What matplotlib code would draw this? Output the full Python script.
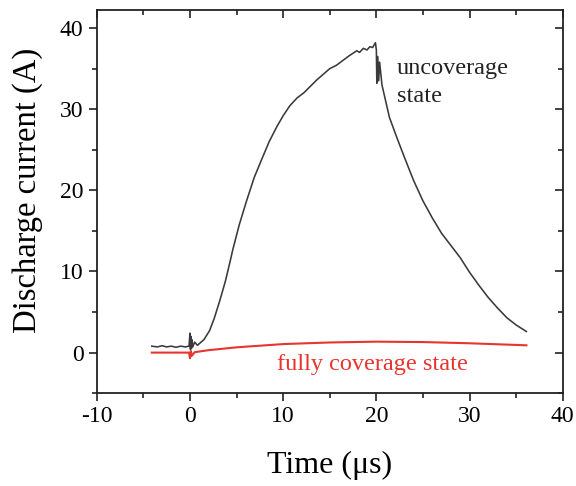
"""Discharge current vs time for uncovered and fully covered states."""

import matplotlib

matplotlib.use("Agg")
import matplotlib.pyplot as plt
from matplotlib.ticker import MultipleLocator

# Uncoverage state (black trace)
uncov_t = [
    -4.1, -3.5, -3.0, -2.5, -2.0, -1.5, -1.0, -0.5, -0.1, 0.0, 0.05, 0.1, 0.15,
    0.2, 0.3, 0.5, 0.8, 1.1, 1.5, 2.1, 2.6, 3.2, 3.8, 4.3, 4.6, 5.3, 6.1, 6.9,
    7.8, 8.5, 9.3, 10.0, 10.7, 11.5, 12.2, 12.9, 13.6, 14.3, 15.0, 15.7, 16.4,
    17.1, 17.9, 18.2, 18.6, 19.0, 19.3, 19.6, 19.9, 20.0, 20.05, 20.15, 20.25,
    20.35, 20.6, 21.4, 22.2, 23.0, 24.0, 25.0, 26.0, 27.0, 28.0, 29.0, 30.0,
    31.0, 32.0, 33.0, 34.0, 35.0, 36.1,
]
uncov_i = [
    0.8, 0.7, 0.85, 0.7, 0.8, 0.65, 0.8, 0.7, 0.8, 2.4, 0.4, 2.0, 0.5,
    1.6, 0.7, 1.3, 0.9, 1.2, 1.6, 2.7, 4.2, 6.4, 8.8, 11.2, 12.7, 15.8, 18.8, 21.6,
    24.1, 26.0, 27.8, 29.2, 30.4, 31.4, 32.0, 32.8, 33.6, 34.3, 35.0, 35.4, 36.0,
    36.6, 37.2, 37.0, 37.5, 37.3, 37.7, 37.6, 38.2, 37.3, 33.2, 36.5, 33.5,
    35.8, 33.0, 29.0, 26.5, 24.1, 21.2, 18.7, 16.6, 14.7, 13.2, 11.7, 9.9,
    8.3, 6.8, 5.5, 4.3, 3.4, 2.6,
]

# Fully coverage state (red trace)
cov_t = [-4.1, -0.1, 0.0, 0.1, 0.2, 0.5, 2.0, 5.0, 10.0, 15.0, 20.0, 25.0, 30.0, 36.1]
cov_i = [0.0, 0.0, -0.7, 0.2, -0.4, 0.05, 0.3, 0.65, 1.05, 1.25, 1.35, 1.3, 1.15, 0.9]

BLACK = "#3a3a3a"
RED = "#e8342e"

plt.rcParams["font.family"] = ["Liberation Serif", "DejaVu Serif"]
plt.rcParams["axes.unicode_minus"] = False

fig = plt.figure(figsize=(5.76, 4.86), dpi=100)
ax = fig.add_axes([0.168, 0.191, 0.809, 0.788])

ax.plot(uncov_t, uncov_i, color=BLACK, linewidth=1.15)
ax.plot(cov_t, cov_i, color=RED, linewidth=1.5)

ax.set_xlim(-10, 40)
ax.set_ylim(-5, 42.2)
ax.xaxis.set_major_locator(MultipleLocator(10))
ax.xaxis.set_minor_locator(MultipleLocator(5))
ax.yaxis.set_major_locator(MultipleLocator(10))
ax.yaxis.set_minor_locator(MultipleLocator(5))

for spine in ax.spines.values():
    spine.set_linewidth(1.3)
    spine.set_color("#222222")

# Origin-style ticks: outward on bottom/left, inward on top/right
ax.tick_params(which="both", direction="out", labelsize=17, width=1.2, color="#222222")
ax.tick_params(which="major", length=6)
ax.tick_params(which="minor", length=3.5)

top = ax.secondary_xaxis("top")
top.xaxis.set_major_locator(MultipleLocator(10))
top.xaxis.set_minor_locator(MultipleLocator(5))
right = ax.secondary_yaxis("right")
right.yaxis.set_major_locator(MultipleLocator(10))
right.yaxis.set_minor_locator(MultipleLocator(5))
for sec in (top, right):
    sec.tick_params(which="both", direction="in", labeltop=False, labelright=False,
                    width=1.2, color="#222222")
    sec.tick_params(which="major", length=6)
    sec.tick_params(which="minor", length=3.5)
    for s in sec.spines.values():
        s.set_visible(False)

ax.set_xlabel("Time (\u03bcs)", fontsize=23, labelpad=17)
ax.set_ylabel("Discharge current (A)", fontsize=23.5)
ax.yaxis.set_label_coords(-0.115, 0.53)

ax.text(22.2, 33.3, "uncoverage\nstate", fontsize=17.5, color="#222222",
        ha="left", va="center", linespacing=1.45)
ax.text(9.3, -1.5, "fully coverage state", fontsize=17.5, color=RED,
        ha="left", va="center")

fig.savefig("out.png", dpi=100)
